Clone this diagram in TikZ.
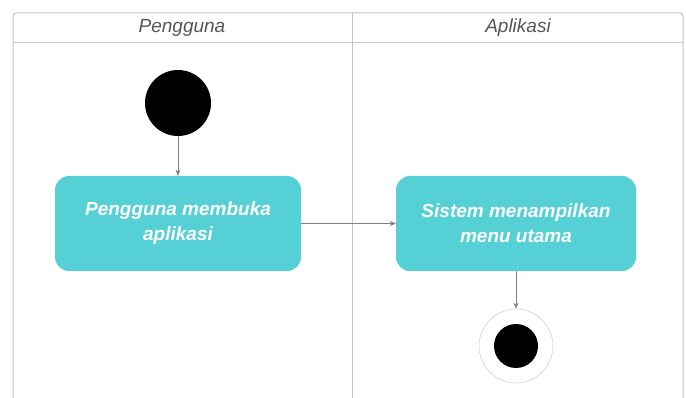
\documentclass[tikz,border=0pt]{standalone}
\usepackage{fontspec}
\setmainfont{Liberation Sans}
\usetikzlibrary{arrows.meta,positioning}
\definecolor{laneLine}{HTML}{C4C4C4}
\definecolor{actFill}{HTML}{55D0D5}
\definecolor{headText}{HTML}{555555}

\begin{document}
\begin{tikzpicture}[x=1pt,y=-1pt,
          lane/.style={draw=laneLine, line width=1pt},
          head/.style={text=headText, font=\fontsize{19}{21}\selectfont\itshape},
          act/.style={rectangle, rounded corners=14pt, fill=actFill, minimum height=95pt, text=white, font=\fontsize{19}{25}\selectfont\bfseries\itshape, align=center},
          startdot/.style={circle, fill=black, minimum size=66pt, inner sep=0pt},
          enddot/.style={circle, draw=laneLine, fill=white, minimum size=74pt, inner sep=0pt},
          flow/.style={-{Stealth[length=6pt,width=5pt]}, draw=gray, line width=0.6pt}
        ]
          \useasboundingbox (0,0) rectangle (686,398);
          % swimlanes
          \draw[lane, rounded corners=3pt] (13,398) -- (13,13) -- (683,13) -- (683,398);
          \draw[lane] (13,43) -- (683,43);
          \draw[lane] (352,13) -- (352,398);
          \node[head] (pengguna) at (182,28) {Pengguna};
          \node[head] (aplikasi) at (518,28) {Aplikasi};
          % activity nodes
          \node[startdot] (mulai) at (178,103) {};
          \node[act, minimum width=246pt] (buka) at (178,223.5) {Pengguna membuka\\aplikasi};
          \node[act, minimum width=240pt] (menu) at (516,223.5) {Sistem menampilkan\\menu utama};
          \node[enddot] (selesai) at (516,346) {};
          \node[startdot, minimum size=44pt] (selesaiDot) at (selesai) {};
          % arrows
          \draw[flow] (mulai) -- (buka);
          \draw[flow] (buka) -- (menu);
          \draw[flow] (menu) -- (selesai);
        \end{tikzpicture}
\end{document}
